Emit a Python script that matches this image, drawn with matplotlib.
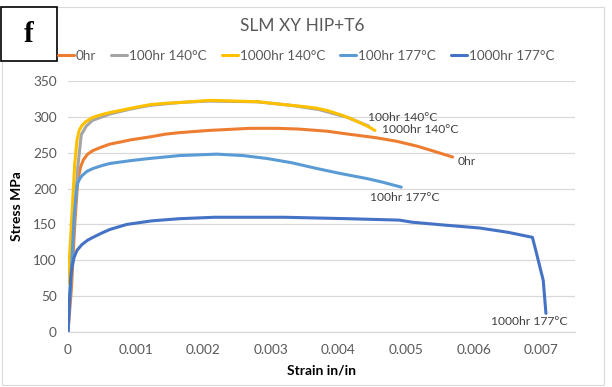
import matplotlib
matplotlib.use("Agg")
import matplotlib.pyplot as plt
from matplotlib.patches import Rectangle

FONT = "Lato"
plt.rcParams['font.family'] = [FONT, 'DejaVu Sans']

title = "SLM XY HIP+T6"
series_names = ["0hr", "100hr 140°C", "1000hr 140°C", "100hr 177°C", "1000hr 177°C"]
colors = ["#ED7D31", "#A5A5A5", "#FFC000", "#5B9BD5", "#4472C4"]

strain_0hr = [0, 0.00005, 0.0001, 0.000145, 0.000186, 0.000227, 0.00029, 0.00037, 0.0005, 0.00062,
              0.00078, 0.00093, 0.00121, 0.00145, 0.00165, 0.00207, 0.00269, 0.0031, 0.00341, 0.00383,
              0.00414, 0.00455, 0.00486, 0.00517, 0.00538, 0.00569]
stress_0hr = [0, 60, 150, 212, 230, 240, 248, 253, 258, 262, 265, 268, 272, 276, 278, 281, 284, 284,
              283, 280, 276, 271, 266, 259, 253, 244]

strain_100_140 = [0.00003, 0.00008, 0.000145, 0.000196, 0.00027, 0.00036, 0.00062, 0.00093, 0.00121,
                  0.00165, 0.00207, 0.00279, 0.00331, 0.00372, 0.00414, 0.00445]
stress_100_140 = [50, 140, 230, 275, 287, 295, 304, 311, 316, 320, 322, 321, 316, 310, 299, 287]

strain_1000_140 = [0, 0.00005, 0.0001, 0.000134, 0.000165, 0.000207, 0.00026, 0.00036, 0.00049, 0.00062,
                   0.00078, 0.00093, 0.00121, 0.00145, 0.00165, 0.0021, 0.00248, 0.00283, 0.0031, 0.00331,
                   0.00352, 0.00368, 0.00383, 0.00393, 0.00403, 0.00417, 0.00424, 0.00434, 0.00445, 0.00454]
stress_1000_140 = [68, 150, 235, 268, 281, 288, 293, 299, 303, 306, 309, 312, 317, 319, 320, 323, 322,
                   321, 318, 316, 314, 312, 309, 306, 303, 298, 295, 291, 286, 281]

strain_100_177 = [0, 0.00004, 0.00009, 0.000124, 0.000145, 0.000176, 0.000207, 0.00028, 0.00037, 0.0005,
                  0.00062, 0.00093, 0.00121, 0.00165, 0.0022, 0.00259, 0.00294, 0.00331, 0.00368, 0.00403,
                  0.00442, 0.00465, 0.00493]
stress_100_177 = [0, 70, 160, 198, 208, 214, 218, 224, 228, 232, 235, 239, 242, 246, 248, 246, 242,
                  236, 228, 221, 214, 209, 202]

strain_1000_177 = [0, 0.00002, 0.00004, 0.00006, 0.00009, 0.000134, 0.000207, 0.00029, 0.00037, 0.0005,
                   0.00062, 0.00087, 0.00124, 0.00165, 0.00217, 0.0032, 0.00414, 0.0049, 0.0051, 0.00558,
                   0.00609, 0.00651, 0.00687, 0.00693, 0.00703, 0.00707]
stress_1000_177 = [0, 40, 75, 91, 104, 114, 122, 128, 132, 138, 143, 150, 155, 158, 160, 160, 158,
                   156, 153, 149, 145, 139, 132, 110, 72, 26]

x_ticks = [0, 0.001, 0.002, 0.003, 0.004, 0.005, 0.006, 0.007]
x_tick_labels = ["0", "0.001", "0.002", "0.003", "0.004", "0.005", "0.006", "0.007"]
y_ticks = [0, 50, 100, 150, 200, 250, 300, 350]

strains = [strain_0hr, strain_100_140, strain_1000_140, strain_100_177, strain_1000_177]
stresses = [stress_0hr, stress_100_140, stress_1000_140, stress_100_177, stress_1000_177]
# end-label offsets in pixels (dx, dy) and alignment
label_offsets = [(5, -4, 'left'), (-1, 9, 'left'), (7, 1, 'left'), (4, -10, 'center'), (-17, -8, 'center')]

W, H = 612, 387
fig = plt.figure(figsize=(W/100, H/100), dpi=100)
ax = fig.add_axes([68/W, 1-332/H, (575-68)/W, (332-81)/H])

for xs, ys, c, name, (dx, dy, ha) in zip(strains, stresses, colors, series_names, label_offsets):
    ax.plot(xs, ys, color=c, lw=2.2, solid_capstyle='round', solid_joinstyle='round', label=name)
    ax.annotate(name, (xs[-1], ys[-1]), xytext=(dx, dy), textcoords='offset pixels',
                ha=ha, va='center', fontsize=8.7, color='#404040')

ax.set_xlim(0, 0.0075)
ax.set_ylim(0, 350)
ax.set_xticks(x_ticks)
ax.set_xticklabels(x_tick_labels)
ax.set_yticks(y_ticks)
ax.grid(axis='y', color='#D9D9D9', lw=0.9)
ax.set_axisbelow(True)
for s in ['top', 'right', 'left']:
    ax.spines[s].set_visible(False)
ax.spines['bottom'].set_color('#D9D9D9')
ax.spines['bottom'].set_linewidth(0.9)
ax.tick_params(axis='both', length=0, colors='#595959', labelsize=9.8)
ax.tick_params(axis='x', pad=9)
ax.tick_params(axis='y', pad=8)
ax.set_xlabel("Strain in/in", fontsize=10, fontweight='bold', color='black', labelpad=6)
ax.set_ylabel("Stress MPa", fontsize=10, fontweight='bold', color='black', labelpad=7)

fig.text(302/W, 1-26/H, title, ha='center', va='center', fontsize=12.5, color='#595959')

leg = fig.legend(loc='center', bbox_to_anchor=(306/W, 1-56/H), ncol=5, frameon=False,
                 fontsize=9.7, handlelength=1.2, handletextpad=0.15, columnspacing=1.1,
                 labelcolor='#595959')

# outer chart border
fig.patches.append(Rectangle((2/W, 2/H), 602/W, 378/H, transform=fig.transFigure,
                             fill=False, edgecolor='#D9D9D9', lw=0.8))
# panel letter box
fig.patches.append(Rectangle((1/W, 1-61/H), 56/W, 54/H, transform=fig.transFigure,
                             fill=True, facecolor='white', edgecolor='black', lw=1.2, zorder=5))
fig.text(29/W, 1-35/H, "f", ha='center', va='center', fontsize=21, fontweight='bold',
         family=['Liberation Serif', 'DejaVu Serif'], zorder=6)

fig.savefig("out.png", dpi=100)
